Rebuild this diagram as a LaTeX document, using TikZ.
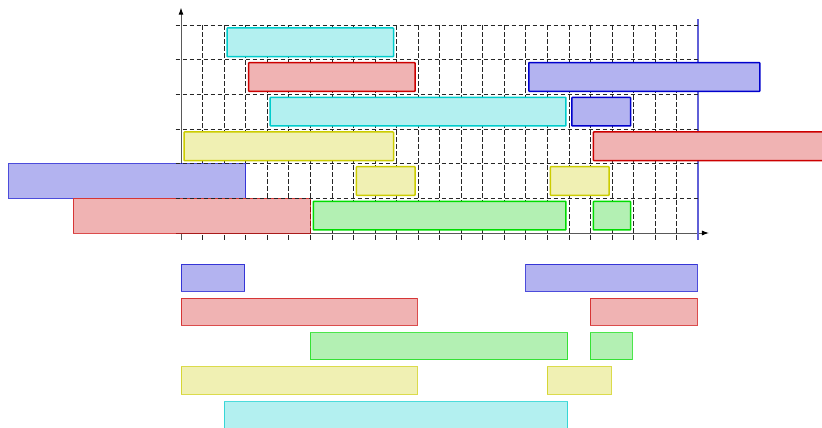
\documentclass[tikz,border=0pt]{standalone}
\usetikzlibrary{arrows.meta}
\definecolor{cfill}{RGB}{179,240,240}\definecolor{cline}{RGB}{0,204,204}
\definecolor{rfill}{RGB}{240,179,179}\definecolor{rline}{RGB}{204,0,0}
\definecolor{bfill}{RGB}{179,179,240}\definecolor{bline}{RGB}{0,0,204}
\definecolor{gfill}{RGB}{179,240,179}\definecolor{gline}{RGB}{0,220,0}
\definecolor{yfill}{RGB}{240,240,179}\definecolor{yline}{RGB}{204,204,0}
\definecolor{markline}{RGB}{95,95,215}
\tikzset{
  gridline/.style={black!85,line width=0.7pt,dash pattern=on 4.5pt off 2.5pt},
  axisline/.style={black!65,line width=0.9pt,-{Latex[black,length=7pt,width=5pt]}},
  bar/.style={line width=1.5pt,rounded corners=0.6pt},
  flatbar/.style={line width=0.7pt,draw opacity=0.7},
}
% inset bar: #1 fill, #2 line, x0, x1, row bottom
\newcommand{\ibar}[5]{\filldraw[bar,fill=#1,draw=#2] ([xshift=3pt,yshift=3pt]#3,#5) rectangle ([xshift=-3pt,yshift=-3pt]#4,#5+1);}
\newcommand{\fbar}[5]{\filldraw[flatbar,fill=#1,draw=#2] (#3,#5) rectangle (#4,#5+0.78);}
\begin{document}
\begin{tikzpicture}[x=21.55pt,y=34.67pt]
\useasboundingbox (-181pt,-195pt) rectangle (641pt,233pt);
\clip (-181pt,-195pt) rectangle (641pt,233pt);
% vertical grid
\foreach \i in {1,...,23} \draw[gridline] (\i,-0.2) -- (\i,6);
\draw[gridline] (0,-0.2) -- (0,0);
% axes
\draw[axisline] (0,-0.2) -- (0,6.5);
\draw[axisline] (-0.25,0) -- (24.5,0);
% blue marker line
\draw[markline,line width=1.5pt] (24,-0.2) -- (24,6.17);
% full-cell bars
\filldraw[flatbar,fill=bfill,draw=bline] (-8,1) rectangle (3,2);
\filldraw[flatbar,fill=rfill,draw=rline] (-5,0) rectangle (6,1);
% inset bars
\ibar{cfill}{cline}{2}{10}{5}
\ibar{rfill}{rline}{3}{11}{4}
\ibar{bfill}{bline}{16}{27}{4}
\ibar{cfill}{cline}{4}{18}{3}
\ibar{bfill}{bline}{18}{21}{3}
\ibar{yfill}{yline}{0}{10}{2}
\ibar{rfill}{rline}{19}{31}{2}
\ibar{yfill}{yline}{8}{11}{1}
\ibar{yfill}{yline}{17}{20}{1}
\ibar{gfill}{gline}{6}{18}{0}
\ibar{gfill}{gline}{19}{21}{0}
% horizontal grid
\foreach \j in {1,...,6} \draw[gridline] (-0.25,\j) -- (24,\j);
% lower rows
\fbar{bfill}{bline}{0}{2.95}{-1.67}
\fbar{bfill}{bline}{16}{23.95}{-1.67}
\fbar{rfill}{rline}{0}{10.95}{-2.66}
\fbar{rfill}{rline}{19}{23.95}{-2.66}
\fbar{gfill}{gline}{6}{17.95}{-3.65}
\fbar{gfill}{gline}{19}{20.95}{-3.65}
\fbar{yfill}{yline}{0}{10.95}{-4.64}
\fbar{yfill}{yline}{17}{19.95}{-4.64}
\fbar{cfill}{cline}{2}{17.95}{-5.65}
\end{tikzpicture}
\end{document}
